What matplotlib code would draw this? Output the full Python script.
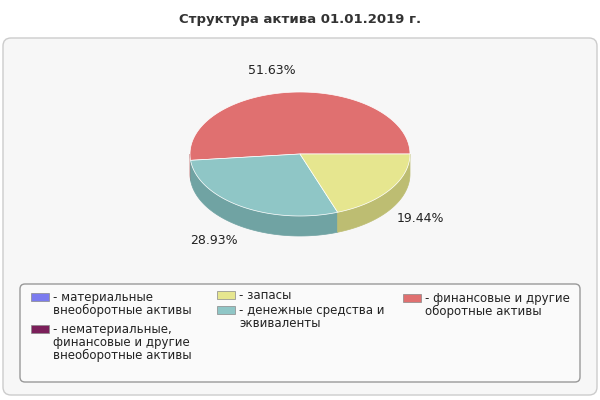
import numpy as np
import matplotlib
matplotlib.use("Agg")
import matplotlib.pyplot as plt
from matplotlib.patches import Polygon, FancyBboxPatch, Rectangle

title = "Структура актива 01.01.2019 г."
labels = ["материальные\nвнеоборотные активы",
          "нематериальные,\nфинансовые и другие\nвнеоборотные активы",
          "запасы", "денежные средства и\nэквиваленты",
          "финансовые и другие\nоборотные активы"]
values = [0.0, 0.0, 19.44, 28.93, 51.63]
colors = ["#7b7bef", "#7b1f5a", "#e6e68f", "#8fc6c6", "#e07070"]
sides = ["#5c5cb3", "#5c1743", "#bdbd72", "#70a3a3", "#b85c5c"]

fig = plt.figure(figsize=(6, 4), dpi=100)
ax = fig.add_axes([0, 0, 1, 1])
ax.set_xlim(0, 600); ax.set_ylim(400, 0); ax.axis("off")

ax.add_patch(FancyBboxPatch((3, 38), 594, 357, boxstyle="round,pad=0,rounding_size=8",
                            fc="#f7f7f7", ec="#cccccc", lw=1))
ax.text(300, 20, title, ha="center", va="center", fontsize=9.5, fontweight="bold", color="#333333")

cx, cy, rx, ry, d = 300, 154, 110, 62, 20
def pt(a, dy=0):
    r = np.radians(a)
    return cx + rx*np.cos(r), cy - ry*np.sin(r) + dy

# compute slices: yellow from -70 to 0, teal, red ... counterclockwise starting at 0 with red
order = [4, 3, 2]
start = 0.0
spans = {}
for i in order:
    ext = values[i] / sum(values) * 360
    spans[i] = (start, start + ext)
    start += ext

# sides
for i in order:
    a0, a1 = spans[i]
    for lo, hi in [(180, 360), (540, 720)]:
        s, e = max(a0, lo), min(a1, hi)
        if e > s:
            t = np.linspace(s, e, 60)
            top = [pt(a) for a in t]
            bot = [pt(a, d) for a in t[::-1]]
            ax.add_patch(Polygon(top + bot, closed=True, fc=sides[i], ec=sides[i], lw=0.5))
# tops
for i in order:
    a0, a1 = spans[i]
    t = np.linspace(a0, a1, 100)
    ax.add_patch(Polygon([(cx, cy)] + [pt(a) for a in t], closed=True,
                         fc=colors[i], ec="white", lw=0.5))

for txt, (x, y) in zip(["51.63%", "19.44%", "28.93%"], [(272, 70), (420, 219), (214, 241)]):
    ax.text(x, y, txt, ha="center", va="center", fontsize=9, color="#222222")

ax.add_patch(FancyBboxPatch((20, 284), 560, 98, boxstyle="round,pad=0,rounding_size=5",
                            fc="#fafafa", ec="#999999", lw=1))
pos = [(32, 297), (32, 329), (218, 295), (218, 310), (404, 298)]
for (x, y), lab, c in zip(pos, labels, colors):
    ax.add_patch(Rectangle((x - 1, y - 4), 18, 8, fc=c, ec="#888888", lw=0.5))
    ax.text(x + 21, y - 6, "- " + lab.split("\n")[0], ha="left", va="top", fontsize=8.5, color="#222222")
    rest = lab.split("\n")[1:]
    if rest:
        ax.text(x + 21 + 0, y + 7, "\n".join(rest), ha="left", va="top", fontsize=8.5,
                color="#222222", linespacing=1.0)

fig.savefig("out.png", dpi=100)
